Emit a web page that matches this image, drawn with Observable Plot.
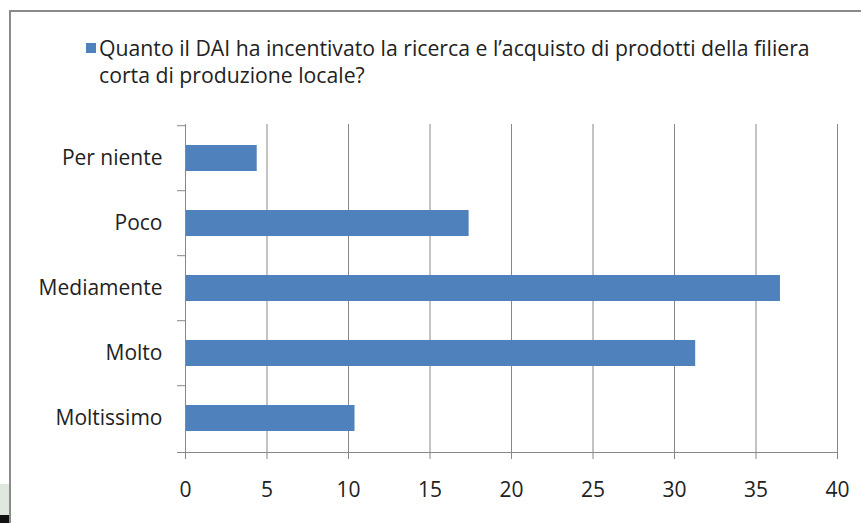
<!DOCTYPE html>
<html>
<head>
<meta charset="utf-8">
<script src="https://cdn.jsdelivr.net/npm/d3@7"></script>
<script src="https://cdn.jsdelivr.net/npm/@observablehq/plot@0.6"></script>
<style>
  html, body { margin: 0; padding: 0; background: #fff; }
  body { width: 861px; height: 523px; position: relative; overflow: hidden; font-family: "Open Sans", sans-serif; color: #222; }
  #frame { position: absolute; left: 9px; top: 10px; width: 900px; height: 600px; border-top: 2px solid #8a8a8a; border-left: 2px solid #8a8a8a; z-index: 2; pointer-events: none; }
  #legend { position: relative; height: 110px; }
  .lg-line { position: absolute; left: 99px; white-space: nowrap; line-height: 27px; }
  #swatch { position: absolute; left: 86px; top: 43px; width: 10px; height: 10px; background: #4f81bd; }
  #chart { position: absolute; left: 0; top: 110px; }
  #shade { position: absolute; left: 0; top: 484px; width: 9px; height: 31px; background: #dfe7de; }
  #corner { position: absolute; left: 0; top: 515px; width: 9px; height: 8px; background: #111; }
</style>
</head>
<body>
<div id="frame"></div>
<div id="legend"><div id="swatch"></div></div>
<div id="chart"></div>
<div id="shade"></div>
<div id="corner"></div>
<script>
const categories = ["Per niente", "Poco", "Mediamente", "Molto", "Moltissimo"];
const values = [4.4, 17.4, 36.5, 31.3, 10.4];
const xTicks = [0, 5, 10, 15, 20, 25, 30, 35, 40];
const legendLines = [
  "Quanto il DAI ha incentivato la ricerca e l’acquisto di prodotti della filiera",
  "corta di produzione locale?"
];

const data = categories.map((c, i) => ({category: c, value: values[i]}));

// legend text, sized to the reference line width
const ctx = document.createElement("canvas").getContext("2d");
ctx.font = "100px 'Open Sans'";
const w100 = ctx.measureText(legendLines[0]).width;
const lgSize = Math.min(22, 100 * 711 / w100);
const legend = document.getElementById("legend");
legendLines.forEach((t, i) => {
  const d = document.createElement("div");
  d.className = "lg-line";
  d.style.top = (34 + i * 27) + "px";
  d.style.fontSize = lgSize + "px";
  d.textContent = t;
  legend.appendChild(d);
});

const H = 413, mTop = 14, mBottom = 71;
const step = (H - mTop - mBottom) / categories.length;
const gray = "#888";

const plot = Plot.plot({
  width: 861,
  height: H,
  marginLeft: 185,
  marginRight: 24,
  marginTop: mTop,
  marginBottom: mBottom,
  style: {background: "transparent", fontFamily: "'Open Sans', sans-serif", fontSize: "21px", color: "#222"},
  x: {domain: [0, 40]},
  y: {domain: categories, paddingInner: 0.6, paddingOuter: 0.3},
  marks: [
    Plot.gridX(xTicks, {stroke: gray, strokeOpacity: 1}),
    Plot.barX(data, {x: "value", y: "category", fill: "#4f81bd"}),
    Plot.ruleX([0], {stroke: gray}),
    Plot.frame({anchor: "bottom", stroke: gray, insetLeft: -8}),
    Plot.axisX(xTicks, {tickSize: 7, tickPadding: 23, stroke: gray, fill: "#222", label: null}),
    Plot.axisY({tickSize: 8, text: null, dy: -step / 2, stroke: gray, label: null}),
    Plot.axisY({tickSize: 0, tickPadding: 23, fill: "#222", label: null})
  ]
});
document.getElementById("chart").appendChild(plot);
</script>
</body>
</html>
